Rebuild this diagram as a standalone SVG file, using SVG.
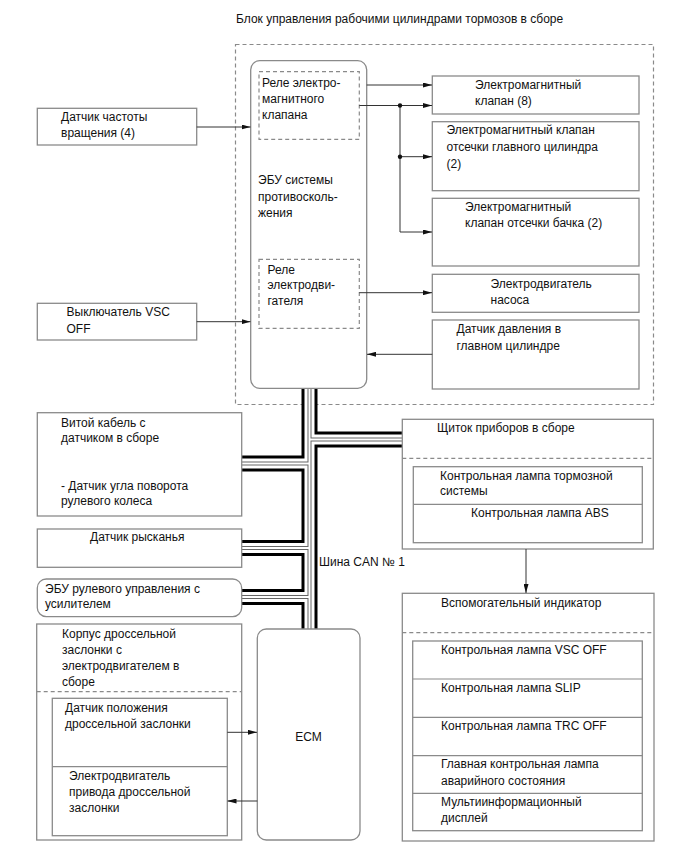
<svg xmlns="http://www.w3.org/2000/svg" width="690" height="853" viewBox="0 0 690 853">
<defs>
<style>
text{font-family:"Liberation Sans",Arial,sans-serif;font-size:12px;fill:#111}
.box{fill:#fff;stroke:#8a8a8a;stroke-width:1.3}
.dash{fill:none;stroke:#8a8a8a;stroke-width:1.2;stroke-dasharray:4 3}
.line{fill:none;stroke:#8a8a8a;stroke-width:1.2}
.wire{fill:none;stroke:#333;stroke-width:1}
.arr{marker-end:url(#ah)}
.b1{fill:none;stroke:#000;stroke-width:16}
.b2{fill:none;stroke:#fff;stroke-width:10}
.b3{fill:none;stroke:#666;stroke-width:4}
.b4{fill:none;stroke:#fff;stroke-width:2}
</style>
<marker id="ah" markerUnits="userSpaceOnUse" markerWidth="9" markerHeight="5" refX="9" refY="2.5" orient="auto">
<path d="M0,0 L9,2.5 L0,5 z" fill="#111"/>
</marker>
</defs>
<rect width="690" height="853" fill="#fff"/>

<g id="title"><text x="236" y="23">Блок управления рабочими цилиндрами тормозов в сборе</text></g>
<g id="brake-actuator"><rect class="dash" x="235.5" y="44.5" width="418" height="360"/></g>

<g id="can-bus">
<path class="b1" d="M309.5,388 V629 M242,463.5 H309.5 M242,548 H309.5 M242,597 H309.5 M309.5,439.5 H402"/>
<path class="b2" d="M309.5,388 V629 M242,463.5 H309.5 M242,548 H309.5 M242,597 H309.5 M309.5,439.5 H402"/>
<path class="b3" d="M309.5,388 V629 M242,463.5 H309.5 M242,548 H309.5 M242,597 H309.5 M309.5,439.5 H402"/>
<path class="b4" d="M309.5,388 V629 M242,463.5 H309.5 M242,548 H309.5 M242,597 H309.5 M309.5,439.5 H402"/>
<text x="319" y="566">Шина CAN № 1</text>
</g>

<g id="abs-ecu">
<rect class="box" x="250.7" y="60.7" width="116" height="327.6" rx="9"/>
<text x="258" y="184">ЭБУ системы</text>
<text x="258" y="200.5">противосколь-</text>
<text x="258" y="216.5">жения</text>
</g>
<g id="solenoid-relay">
<rect class="dash" x="259" y="71.7" width="100.3" height="67.6"/>
<text x="262" y="86.7">Реле электро-</text>
<text x="262" y="102.5">магнитного</text>
<text x="262" y="118.5">клапана</text>
</g>
<g id="motor-relay">
<rect class="dash" x="259" y="259.3" width="100.3" height="69"/>
<text x="267.5" y="273.5">Реле</text>
<text x="267.5" y="289">электродви-</text>
<text x="267.5" y="305">гателя</text>
</g>

<g id="solenoid-valve">
<rect class="box" x="432.3" y="76" width="206.7" height="38"/>
<text x="475" y="88.5">Электромагнитный</text>
<text x="475" y="105">клапан (8)</text>
</g>
<g id="master-cut-valve">
<rect class="box" x="432.3" y="121.7" width="206.7" height="69"/>
<text x="446.5" y="134">Электромагнитный клапан</text>
<text x="446.5" y="151">отсечки главного цилиндра</text>
<text x="446.5" y="167.5">(2)</text>
</g>
<g id="reservoir-cut-valve">
<rect class="box" x="432.3" y="198.3" width="206.7" height="67.7"/>
<text x="465" y="211">Электромагнитный</text>
<text x="465" y="227">клапан отсечки бачка (2)</text>
</g>
<g id="pump-motor">
<rect class="box" x="432.3" y="274.3" width="206.7" height="38"/>
<text x="490.5" y="287.5">Электродвигатель</text>
<text x="490.5" y="303.5">насоса</text>
</g>
<g id="master-pressure-sensor">
<rect class="box" x="432.3" y="320" width="206.7" height="69"/>
<text x="456.5" y="333">Датчик давления в</text>
<text x="456.5" y="350">главном цилиндре</text>
</g>

<g id="speed-sensor">
<rect class="box" x="37.3" y="108.3" width="159.4" height="36.7"/>
<text x="61" y="120.5">Датчик частоты</text>
<text x="61" y="137">вращения (4)</text>
</g>
<g id="vsc-off-switch">
<rect class="box" x="37.3" y="303.3" width="159.4" height="36.7"/>
<text x="66.5" y="316">Выключатель VSC</text>
<text x="66.5" y="332.5">OFF</text>
</g>

<g id="spiral-cable">
<rect class="box" x="37.3" y="412.7" width="204.4" height="103.3"/>
<text x="61" y="427">Витой кабель с</text>
<text x="61" y="442">датчиком в сборе</text>
<text x="61" y="490">- Датчик угла поворота</text>
<text x="61" y="505">рулевого колеса</text>
</g>
<g id="yaw-sensor">
<rect class="box" x="37.3" y="529" width="204.4" height="38.3"/>
<text x="90" y="540.5">Датчик рысканья</text>
</g>
<g id="eps-ecu">
<rect class="box" x="37.3" y="579" width="204.4" height="37.7" rx="9"/>
<text x="45" y="593">ЭБУ рулевого управления с</text>
<text x="45" y="607.5">усилителем</text>
</g>
<g id="throttle-body">
<rect class="box" x="36.7" y="624" width="205" height="216"/>
<line class="dash" x1="36.7" y1="691.7" x2="241.7" y2="691.7"/>
<text x="62" y="638">Корпус дроссельной</text>
<text x="62" y="653.5">заслонки с</text>
<text x="62" y="670">электродвигателем в</text>
<text x="62" y="685.5">сборе</text>
<rect class="box" x="52.3" y="698.3" width="175" height="137.4"/>
<line class="line" x1="52.3" y1="766.7" x2="227.3" y2="766.7"/>
<text x="65" y="712">Датчик положения</text>
<text x="65" y="727.5">дроссельной заслонки</text>
<text x="69" y="780">Электродвигатель</text>
<text x="69" y="795.5">привода дроссельной</text>
<text x="69" y="812">заслонки</text>
</g>
<g id="ecm">
<rect class="box" x="257.3" y="629" width="102.7" height="211" rx="9"/>
<text x="308.5" y="741" text-anchor="middle">ECM</text>
</g>

<g id="combination-meter">
<rect class="box" x="402.3" y="419.3" width="251" height="129.7"/>
<line class="dash" x1="402.3" y1="458.3" x2="653.3" y2="458.3"/>
<text x="437" y="432">Щиток приборов в сборе</text>
<rect class="box" x="413.3" y="466.7" width="229" height="76"/>
<line class="line" x1="413.3" y1="504.3" x2="642.3" y2="504.3"/>
<text x="440" y="480">Контрольная лампа тормозной</text>
<text x="440" y="495">системы</text>
<text x="471" y="517">Контрольная лампа ABS</text>
</g>
<g id="sub-indicator">
<rect class="box" x="402.3" y="593.3" width="251.7" height="247.7"/>
<line class="dash" x1="402.3" y1="632.7" x2="654" y2="632.7"/>
<text x="441" y="607">Вспомогательный индикатор</text>
<rect class="box" x="412.7" y="641" width="229.6" height="189.7"/>
<line class="line" x1="412.7" y1="679" x2="642.3" y2="679"/>
<line class="line" x1="412.7" y1="717.3" x2="642.3" y2="717.3"/>
<line class="line" x1="412.7" y1="755.7" x2="642.3" y2="755.7"/>
<line class="line" x1="412.7" y1="793.3" x2="642.3" y2="793.3"/>
<text x="441" y="654">Контрольная лампа VSC OFF</text>
<text x="441" y="692">Контрольная лампа SLIP</text>
<text x="441" y="730">Контрольная лампа TRC OFF</text>
<text x="441" y="768">Главная контрольная лампа</text>
<text x="441" y="785">аварийного состояния</text>
<text x="441" y="806">Мультиинформационный</text>
<text x="441" y="822">дисплей</text>
</g>

<g id="connectors">
<path class="wire arr" d="M366.7,85 H432"/>
<path class="wire arr" d="M359.3,105.5 H432"/>
<path class="wire arr" d="M400,105.5 V232 H432"/>
<path class="wire arr" d="M400,156.7 H432"/>
<circle cx="400" cy="105.5" r="2.2" fill="#111"/>
<circle cx="400" cy="156.7" r="2.2" fill="#111"/>
<path class="wire arr" d="M359.3,292.7 H432"/>
<path class="wire arr" d="M432.3,354.3 H367"/>
<path class="wire arr" d="M196.7,127 H250.5"/>
<path class="wire arr" d="M196.7,321.7 H250.5"/>
<path class="wire arr" d="M227.3,732.3 H257"/>
<path class="wire arr" d="M257.3,801 H227.5"/>
<path class="wire arr" d="M526,549 V593"/>
</g>
</svg>
